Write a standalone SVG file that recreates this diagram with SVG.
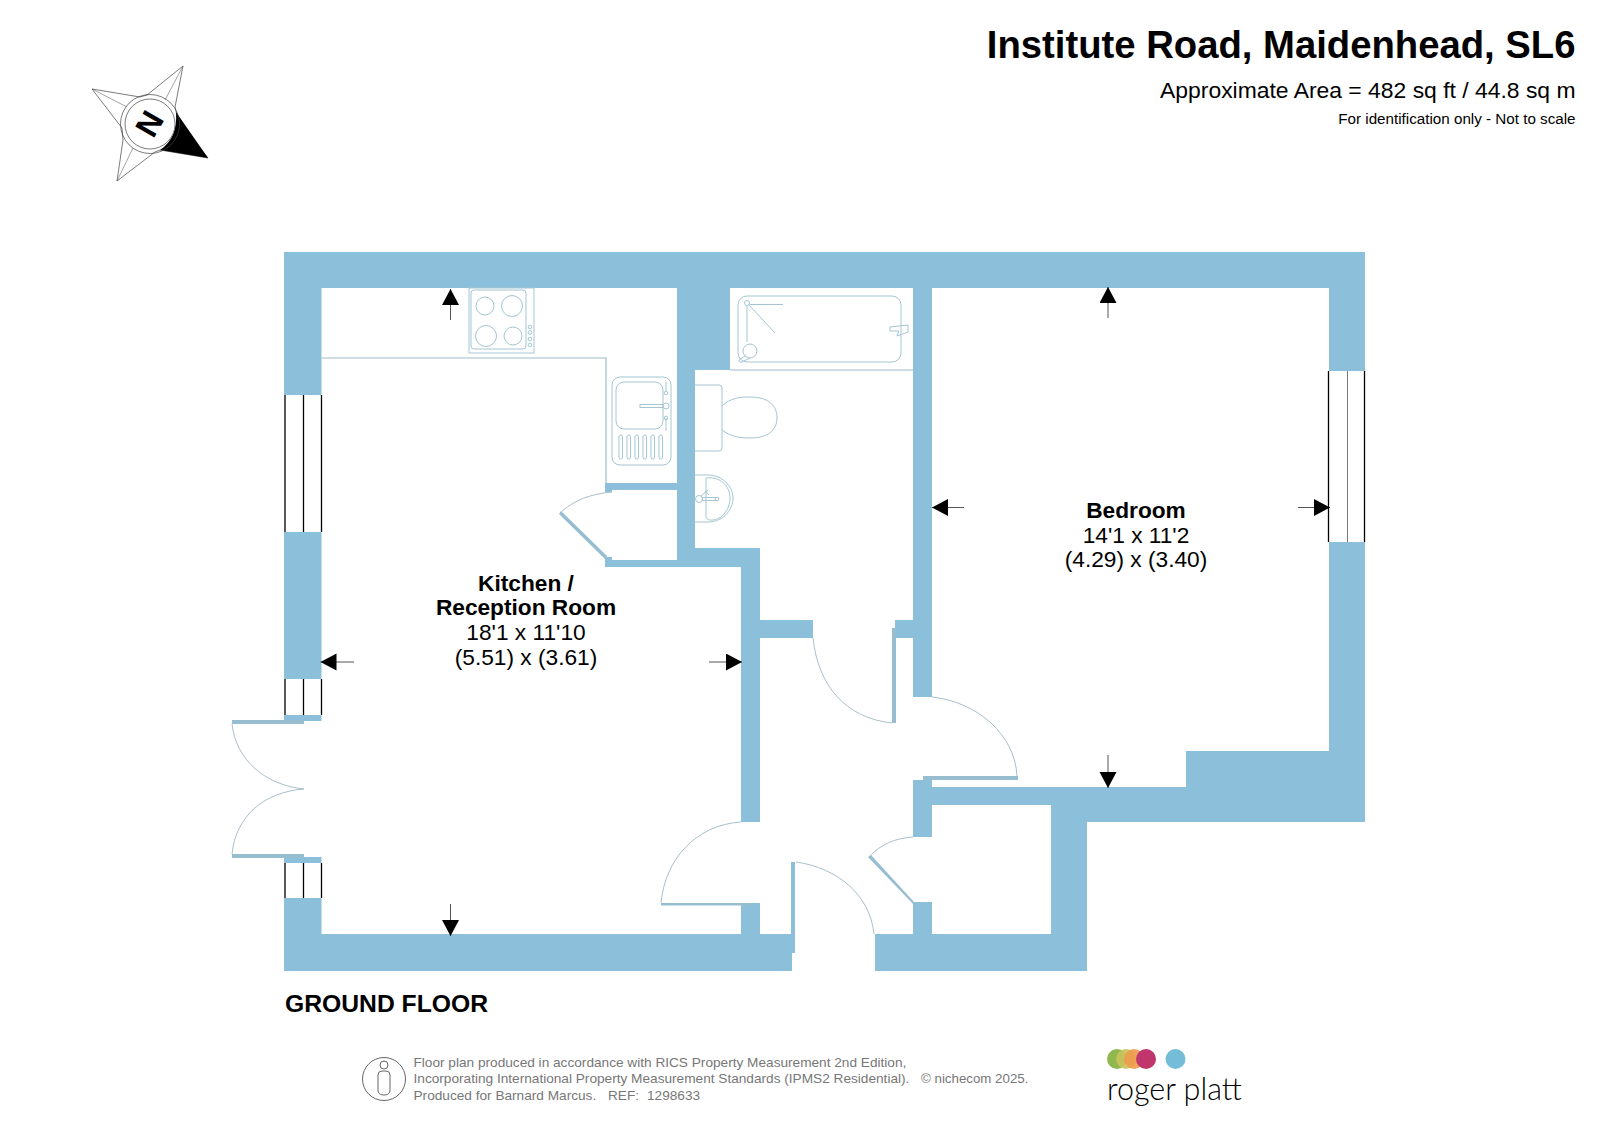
<svg xmlns="http://www.w3.org/2000/svg" width="1600" height="1132" viewBox="0 0 1600 1132">
<style>
text{font-family:"Liberation Sans",Arial,sans-serif;fill:#000}
.w{fill:#8cc0da}
.l{fill:#97bdd0}
.f{fill:none;stroke:#a3c6d2;stroke-width:1}
.c{fill:none;stroke:#9dbdca;stroke-width:1.2}
.d{fill:none;stroke:#a9bfc9;stroke-width:1}
.win{stroke:#000;stroke-width:1.3;fill:none}
.a{stroke:#555;stroke-width:1;fill:none}
.m{font-size:22.7px;text-anchor:middle}
.b{font-weight:700}
.s{font-size:13.65px;fill:#777}
</style>
<defs><marker id="ah" markerUnits="userSpaceOnUse" markerWidth="17" markerHeight="18" refX="16" refY="8.500" orient="auto"><path d="M0 0L16 8.500L0 17Z" fill="#000"/></marker></defs>
<rect width="1600" height="1132" fill="#fff"/>
<g id="compass">
<path d="M183 66L175 107L178 120L208 158L160 150L155 152L117 181L123 140L122 128L92 89L140 97L147 95Z" fill="#fff" stroke="#444" stroke-width="0.7"/>
<path d="M92 89L127 107M183 66L165 100M117 181L133 148" fill="none" stroke="#666" stroke-width="0.6"/>
<path d="M176 112L208 158L160 150Q178 138 176 112Z" fill="#000"/>
<circle cx="150" cy="124" r="29.500" fill="none" stroke="#444" stroke-width="0.7"/>
<circle cx="150" cy="124" r="25" fill="#fff" stroke="#444" stroke-width="0.7"/>
<text x="150" y="124" class="b" font-size="32" text-anchor="middle" transform="rotate(120 150 124) translate(0 11.500)">N</text>
</g>
<g id="walls">
<rect class="w" x="284" y="252" width="1081" height="36"/>
<rect class="w" x="284" y="252" width="37.500" height="143"/>
<rect class="w" x="284" y="532" width="37.500" height="147"/>
<rect class="w" x="284" y="715" width="37.500" height="6"/>
<rect class="w" x="284" y="857" width="37.500" height="6"/>
<rect class="w" x="284" y="898" width="37.500" height="73"/>
<rect class="w" x="284" y="934" width="508" height="37"/>
<rect class="w" x="875" y="934" width="212" height="37"/>
<rect class="w" x="1329" y="252" width="36" height="119"/>
<rect class="w" x="1329" y="542" width="36" height="280"/>
<rect class="w" x="1186" y="751" width="143" height="71"/>
<rect class="w" x="932" y="787" width="398" height="18"/>
<rect class="w" x="1051" y="787" width="314" height="35"/>
<rect class="w" x="1051" y="787" width="36" height="184"/>
<rect class="w" x="677" y="288" width="53" height="82"/>
<rect class="w" x="677" y="370" width="18" height="197"/>
<rect class="w" x="605" y="483" width="72" height="7"/>
<rect class="w" x="605" y="483" width="7" height="9"/>
<rect class="w" x="605" y="560" width="136" height="7"/>
<rect class="w" x="605" y="557" width="7" height="4"/>
<rect class="w" x="695" y="548" width="65" height="18"/>
<rect class="w" x="741" y="548" width="19" height="274"/>
<rect class="w" x="760" y="620" width="53" height="18"/>
<rect class="w" x="913" y="288" width="19" height="409"/>
<rect class="w" x="895" y="620" width="18" height="18"/>
<rect class="w" x="913" y="780" width="19" height="57"/>
<rect class="w" x="913" y="902" width="19" height="32"/>
<rect class="w" x="741" y="903" width="19" height="31"/>
<rect class="w" x="791" y="862" width="4" height="91"/>
</g>
<g id="doors">
<rect class="l" x="892" y="628" width="4" height="95"/>
<path class="d" d="M813 638C818 685 845 718 892 723"/>
<rect class="l" x="923" y="776" width="95" height="4"/>
<path class="d" d="M932 697C978 702 1015 735 1017 776"/>
<rect class="l" x="661" y="903" width="90" height="2.500"/>
<path class="d" d="M661 903C665 860 695 825 741 822"/>
<path class="d" d="M796 862C838 868 870 895 874 934"/>
<path class="l" d="M868 857L871 855L914 902L914 905Z"/>
<path class="d" d="M870 856C880 845 895 838 913 837"/>
<path class="l" d="M559 514L561 511L607 556L606 560Z"/>
<path class="d" d="M561 512C575 500 590 494 612 492"/>
<rect class="l" x="232" y="720" width="72" height="4"/>
<rect class="l" x="232" y="854" width="72" height="4"/>
<path class="d" d="M232 724C236 760 265 785 304 789C265 792 236 815 232 854"/>
</g>
<g id="windows">
<path class="win" d="M285 395V532M303.500 395V532M321.500 395V532"/>
<path class="win" d="M285 679V715M303.500 679V715M321.500 679V715"/>
<path class="win" d="M285 863V898M303.500 863V898M321.500 863V898"/>
<path class="win" d="M1328.500 371V542M1364.500 371V542"/>
<path d="M1347.500 371V542" fill="none" stroke="#777" stroke-width="1"/>
</g>
<g id="kitchen-fittings">
<path class="c" d="M321.500 358H606V483"/>
<rect class="f" x="469" y="288" width="65" height="65"/>
<rect class="f" x="471" y="290" width="55" height="59" rx="3"/>
<circle class="f" cx="485" cy="306" r="9"/><circle class="f" cx="512" cy="306" r="10.500"/><circle class="f" cx="486" cy="336" r="10.500"/><circle class="f" cx="513" cy="336" r="9"/>
<circle class="f" cx="530" cy="327" r="1.800"/><circle class="f" cx="530" cy="332.500" r="1.800"/><circle class="f" cx="530" cy="339" r="1.800"/><circle class="f" cx="530" cy="345" r="1.800"/>
<rect class="f" x="612" y="377" width="59" height="88" rx="8"/>
<rect class="f" x="616" y="382" width="47" height="47" rx="8"/>
<path class="f" d="M640 404.500H664M640 407.500H664M640 404V408"/>
<circle class="f" cx="666" cy="406" r="3"/>
<circle class="f" cx="666" cy="393" r="1.800"/><path class="f" d="M666 382V391M666 418V431"/><circle class="f" cx="666" cy="418" r="1.800"/>
<rect class="f" x="619" y="435" width="3.500" height="24" rx="1.700"/><rect class="f" x="627" y="435" width="3.500" height="24" rx="1.700"/><rect class="f" x="635" y="435" width="3.500" height="24" rx="1.700"/><rect class="f" x="643" y="435" width="3.500" height="24" rx="1.700"/><rect class="f" x="651" y="435" width="3.500" height="24" rx="1.700"/><rect class="f" x="659" y="435" width="3.500" height="24" rx="1.700"/>
</g>
<g id="bathroom-fittings">
<path class="c" d="M730 370H913"/>
<rect class="f" x="738" y="296" width="163" height="66" rx="9"/>
<circle class="f" cx="747" cy="303" r="2.500"/>
<path class="f" d="M750 304.500H783M749 305L775 333M747 306V342"/>
<circle class="f" cx="750" cy="351" r="7"/>
<path class="f" d="M745 356L739 360A2 2 0 0 0 742 362L750 358"/>
<path class="f" d="M890 327L908 325L908 332L900 335L897 336L899 331L890 331Z"/>
<path class="f" d="M695 385H719Q722 385 722 388V448Q722 451 719 451H695"/>
<path class="f" d="M722 406C730 398 740 397 750 397C768 397 777 405 777 418C777 430 768 438 750 438C738 438 730 436 722 430"/>
<path class="f" d="M695 475H708C722 475 733 486 733 498C733 511 722 522 708 522H695"/>
<path class="f" d="M706 478C720 476 730 486 730 498C730 511 720 521 710 520C707 520 706 518 706 516Z"/>
<circle class="f" cx="699" cy="499" r="3.500"/>
<path class="f" d="M702 497.500H717M702 500.500H717M701 496L708 490M705 491L709 495"/>
<circle class="f" cx="717" cy="499" r="1.800"/>
</g>
<g id="connectors">
<path class="a" d="M450.500 320V289" marker-end="url(#ah)"/>
<path class="a" d="M450.500 904V936" marker-end="url(#ah)"/>
<path class="a" d="M354 662H320.500" marker-end="url(#ah)"/>
<path class="a" d="M709 662H742" marker-end="url(#ah)"/>
<path class="a" d="M1108 318V287" marker-end="url(#ah)"/>
<path class="a" d="M1108 755V788" marker-end="url(#ah)"/>
<path class="a" d="M964 507.500H932" marker-end="url(#ah)"/>
<path class="a" d="M1298 507.500H1330" marker-end="url(#ah)"/>
</g>
<g id="header">
<text x="1575.500" y="57.500" class="b" font-size="38.250" text-anchor="end">Institute Road, Maidenhead, SL6</text>
<text x="1575.500" y="97.500" font-size="22.900" text-anchor="end">Approximate Area = 482 sq ft / 44.8 sq m</text>
<text x="1575.500" y="124" font-size="15.200" text-anchor="end">For identification only - Not to scale</text>
</g>
<g id="kitchen-label">
<text x="526" y="591" class="m b">Kitchen /</text>
<text x="526" y="615" class="m b">Reception Room</text>
<text x="526" y="640" class="m">18'1 x 11'10</text>
<text x="526" y="665" class="m">(5.51) x (3.61)</text>
</g>
<g id="bedroom-label">
<text x="1136" y="518" class="m b">Bedroom</text>
<text x="1136" y="542.500" class="m">14'1 x 11'2</text>
<text x="1136" y="567" class="m">(4.29) x (3.40)</text>
</g>
<text x="285" y="1012" class="b" font-size="24.700">GROUND FLOOR</text>
<g id="footer">
<circle cx="384" cy="1079" r="21.500" fill="none" stroke="#666" stroke-width="1"/>
<circle cx="384" cy="1065" r="4" fill="none" stroke="#666" stroke-width="1"/>
<path d="M378 1075Q378 1071 382 1071H386Q390 1071 390 1075V1090Q390 1095 384 1095Q378 1095 378 1090Z" fill="none" stroke="#666" stroke-width="1"/>
<text x="413.500" y="1067" class="s">Floor plan produced in accordance with RICS Property Measurement 2nd Edition,</text>
<text x="413.500" y="1083" class="s">Incorporating International Property Measurement Standards (IPMS2 Residential).</text>
<text x="413.500" y="1100" class="s">Produced for Barnard Marcus.</text>
<text x="608" y="1100" class="s">REF:</text>
<text x="647" y="1100" class="s">1298633</text>
<text x="921" y="1083" class="s" style="font-size:13.3px">© nichecom 2025.</text>
</g>
<g id="logo">
<circle cx="1117" cy="1059" r="10" fill="#8fb84e"/>
<circle cx="1126" cy="1059" r="10" fill="#c9c45c" opacity="0.9"/>
<circle cx="1134" cy="1059" r="10" fill="#ee9a4d" opacity="0.9"/>
<circle cx="1146" cy="1059" r="10" fill="#c0356b"/>
<circle cx="1175.500" cy="1059" r="10" fill="#74bcd8"/>
<text x="1107" y="1100" font-size="30.500" style="font-family:Lato,'Liberation Sans',sans-serif;font-weight:300">roger platt</text>
</g>
</svg>
